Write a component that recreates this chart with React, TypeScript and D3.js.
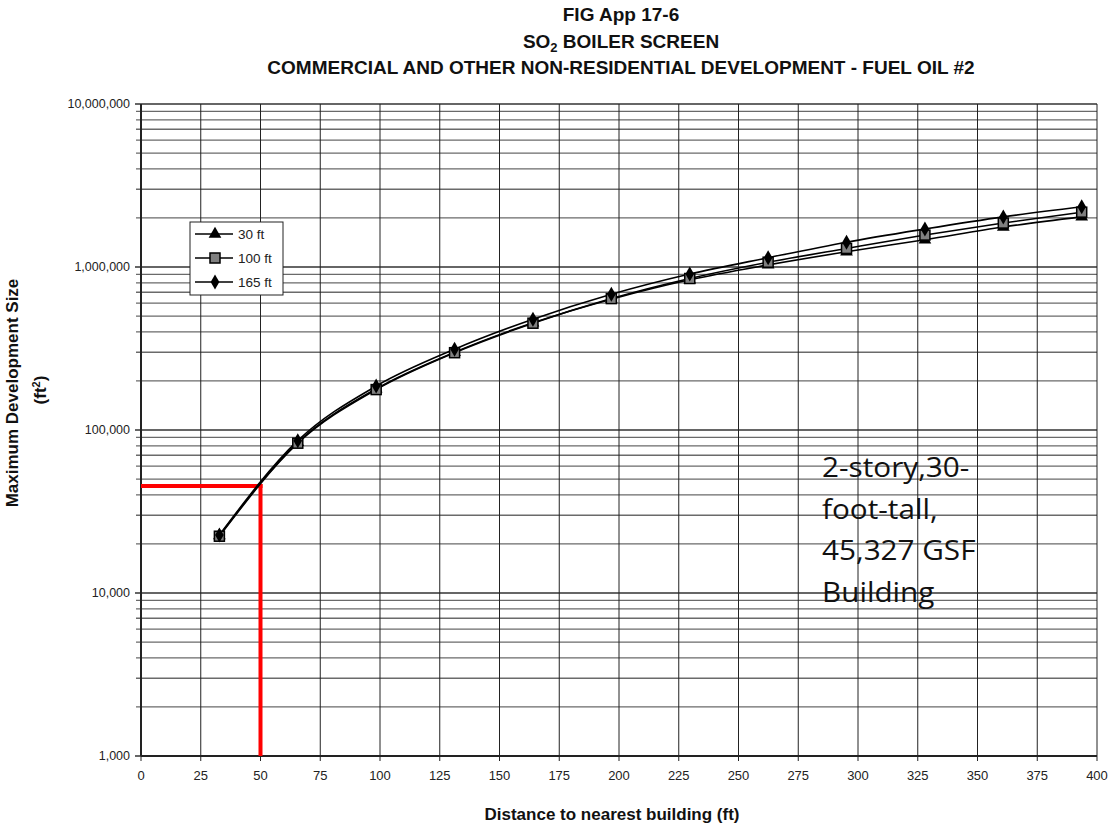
import React, { useEffect, useRef } from 'react';
import * as d3 from 'd3';

const distances = [32.8, 65.6, 98.4, 131.2, 164, 196.8, 229.6, 262.4, 295.2, 328, 360.8, 393.6];
const size30 = [22500, 84000, 179000, 300000, 455000, 635000, 835000, 1030000, 1240000, 1470000, 1760000, 2030000];
const size100 = [22300, 83000, 177000, 298000, 452000, 640000, 850000, 1070000, 1300000, 1570000, 1860000, 2170000];
const size165 = [22700, 86000, 186000, 313000, 478000, 680000, 905000, 1140000, 1420000, 1710000, 2030000, 2340000];
const seriesNames = ['30 ft', '100 ft', '165 ft'];
const xTicks = d3.range(0, 401, 25);
const yMajor = [1000, 10000, 100000, 1000000, 10000000];
const titleLines = ['FIG App 17-6', 'SO2 BOILER SCREEN', 'COMMERCIAL AND OTHER NON-RESIDENTIAL DEVELOPMENT - FUEL OIL #2'];
const example = { distance: 50, size: 45327 };
const noteLines = ['2-story,30-', 'foot-tall,', '45,327 GSF', 'Building'];

const W = 1115, H = 829;
const m = { left: 141, right: 18, top: 104, bottom: 73 };

export default function App() {
  const ref = useRef<SVGSVGElement>(null);

  useEffect(() => {
    const svg = d3.select(ref.current);
    svg.selectAll('*').remove();
    const font = 'Liberation Sans, Arial, sans-serif';

    const x = d3.scaleLinear().domain([0, 400]).range([m.left, W - m.right]);
    const y = d3.scaleLog().domain([1000, 10000000]).range([H - m.bottom, m.top]);

    // minor log values
    const yMinor: number[] = [];
    for (let d = 1000; d < 10000000; d *= 10) {
      for (let k = 2; k <= 9; k++) yMinor.push(d * k);
    }

    const g = svg.append('g');
    // horizontal grid
    g.selectAll('.hm').data(yMinor).enter().append('line')
      .attr('x1', m.left - 5).attr('x2', x(400))
      .attr('y1', d => y(d)).attr('y2', d => y(d))
      .attr('stroke', '#6a6a6a').attr('stroke-width', 1.3);
    g.selectAll('.hM').data(yMajor).enter().append('line')
      .attr('x1', m.left - 6).attr('x2', x(400))
      .attr('y1', d => y(d)).attr('y2', d => y(d))
      .attr('stroke', '#333').attr('stroke-width', 1.5);
    // vertical grid
    g.selectAll('.v').data(xTicks).enter().append('line')
      .attr('x1', d => x(d)).attr('x2', d => x(d))
      .attr('y1', y(10000000)).attr('y2', y(1000) + 5)
      .attr('stroke', '#222').attr('stroke-width', 1);

    // axes lines
    g.append('line').attr('x1', m.left).attr('x2', m.left)
      .attr('y1', y(10000000)).attr('y2', y(1000))
      .attr('stroke', '#222').attr('stroke-width', 2);
    g.append('line').attr('x1', m.left).attr('x2', x(400))
      .attr('y1', y(1000)).attr('y2', y(1000))
      .attr('stroke', '#222').attr('stroke-width', 2);

    // tick labels
    g.selectAll('.yl').data(yMajor).enter().append('text')
      .attr('x', m.left - 11).attr('y', d => y(d) + 4)
      .attr('text-anchor', 'end').attr('font-family', font).attr('font-size', 12.5)
      .attr('fill', '#222').text(d => d3.format(',')(d));
    g.selectAll('.xl').data(xTicks).enter().append('text')
      .attr('x', d => x(d)).attr('y', y(1000) + 24)
      .attr('text-anchor', 'middle').attr('font-family', font).attr('font-size', 13)
      .attr('fill', '#222').text(d => d);

    // red example lines
    const red = '#ff0000';
    g.append('line').attr('x1', x(0)).attr('x2', x(example.distance) + 2)
      .attr('y1', y(example.size)).attr('y2', y(example.size))
      .attr('stroke', red).attr('stroke-width', 4);
    g.append('line').attr('x1', x(example.distance)).attr('x2', x(example.distance))
      .attr('y1', y(example.size) - 2).attr('y2', y(1000))
      .attr('stroke', red).attr('stroke-width', 4);

    // series
    const all = [size30, size100, size165];
    const line = d3.line<number>()
      .x((_, i) => x(distances[i]))
      .y(d => y(d))
      .curve(d3.curveMonotoneX);
    all.forEach(vals => {
      g.append('path').attr('d', line(vals)).attr('fill', 'none')
        .attr('stroke', '#000').attr('stroke-width', 1.6);
    });

    const drawMarker = (sel: any, idx: number, cx: number, cy: number) => {
      if (idx === 0) {
        sel.append('path')
          .attr('d', d3.symbol(d3.symbolTriangle, 70)())
          .attr('transform', `translate(${cx},${cy})`).attr('fill', '#000');
      } else if (idx === 1) {
        sel.append('rect').attr('x', cx - 5).attr('y', cy - 5)
          .attr('width', 10).attr('height', 10)
          .attr('fill', '#808080').attr('stroke', '#000').attr('stroke-width', 1.5);
      } else {
        sel.append('path')
          .attr('d', d3.symbol(d3.symbolDiamond, 65)())
          .attr('transform', `translate(${cx},${cy})`).attr('fill', '#000');
      }
    };
    all.forEach((vals, si) => {
      vals.forEach((v, i) => drawMarker(g, si, x(distances[i]), y(v)));
    });

    // legend
    const lg = g.append('g').attr('transform', 'translate(190,222)');
    lg.append('rect').attr('width', 93).attr('height', 73)
      .attr('fill', '#fff').attr('stroke', '#222').attr('stroke-width', 1);
    seriesNames.forEach((name, i) => {
      const ly = 12 + i * 24;
      lg.append('line').attr('x1', 5).attr('x2', 43).attr('y1', ly).attr('y2', ly)
        .attr('stroke', '#000').attr('stroke-width', 1.6);
      drawMarker(lg, i, 25, ly);
      lg.append('text').attr('x', 48).attr('y', ly + 5)
        .attr('font-family', font).attr('font-size', 13.5).attr('fill', '#222').text(name);
    });

    // titles
    titleLines.forEach((t, i) => {
      const tx = g.append('text').attr('x', 621).attr('y', 21 + i * 26.5)
        .attr('text-anchor', 'middle').attr('font-family', font)
        .attr('font-size', 19).attr('font-weight', 'bold').attr('fill', '#111');
      if (t.startsWith('SO2')) {
        tx.append('tspan').text('SO');
        tx.append('tspan').attr('font-size', 13).attr('dy', 4).text('2');
        tx.append('tspan').attr('dy', -4).text(t.slice(3));
      } else {
        tx.text(t);
      }
    });

    // axis titles
    g.append('text').attr('x', 612).attr('y', 820).attr('text-anchor', 'middle')
      .attr('font-family', font).attr('font-size', 17).attr('font-weight', 'bold')
      .attr('fill', '#111').text('Distance to nearest building (ft)');
    const yt = g.append('text').attr('transform', 'translate(18,393) rotate(-90)')
      .attr('text-anchor', 'middle').attr('font-family', font).attr('font-size', 17)
      .attr('font-weight', 'bold').attr('fill', '#111');
    yt.text('Maximum Development Size');
    const yt2 = g.append('text').attr('transform', 'translate(46,390) rotate(-90)')
      .attr('text-anchor', 'middle').attr('font-family', font).attr('font-size', 17)
      .attr('font-weight', 'bold').attr('fill', '#111');
    yt2.append('tspan').text('(ft');
    yt2.append('tspan').attr('font-size', 11).attr('dy', -6).text('2');
    yt2.append('tspan').attr('dy', 6).text(')');

    // annotation
    noteLines.forEach((t, i) => {
      g.append('text')
        .attr('transform', `translate(822,${477 + i * 41.5}) scale(1.1,1)`)
        .attr('font-family', 'Open Sans, sans-serif').attr('font-size', 27)
        .attr('fill', '#111').text(t);
    });
  }, []);

  return (
    <svg ref={ref} width={W} height={H}
      style={{ position: 'absolute', left: 0, top: 0, background: '#fff' }} />
  );
}
